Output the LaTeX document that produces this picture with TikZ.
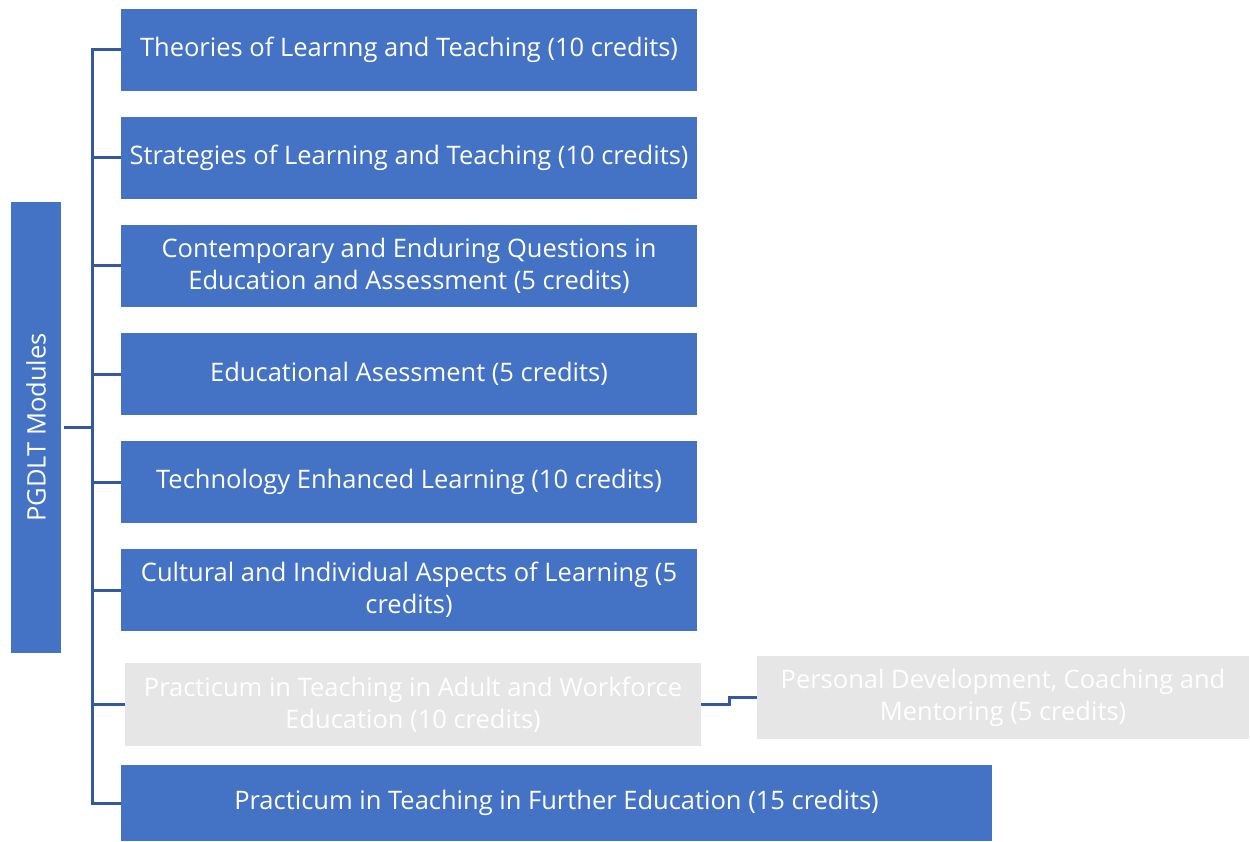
\documentclass[tikz,border=0pt]{standalone}
\usepackage{fontspec}
\setmainfont{Open Sans}
\begin{document}
\begin{tikzpicture}[x=1pt,y=-1pt,
  mod/.style={fill=modblue,text=white,inner sep=0pt,align=center,
    font=\fontsize{25.5}{32}\selectfont},
  optmod/.style={mod,fill=optgrey},
  link/.style={draw=linkblue,line width=3pt}]
\definecolor{modblue}{HTML}{4472C4}
\definecolor{optgrey}{HTML}{E7E6E6}
\definecolor{linkblue}{HTML}{3559A0}
\useasboundingbox (0,0) rectangle (1250,842);

% root of the module tree
\node[mod,minimum width=50pt,minimum height=451pt] (pg) at (36,427.5) {\rotatebox{90}{PGDLT Modules}};

% modules
\node[mod,minimum width=576pt,minimum height=82pt] (m1) at (409,50) {Theories of Learnng and Teaching (10 credits)};
\node[mod,minimum width=576pt,minimum height=82pt] (m2) at (409,158) {Strategies of Learning and Teaching (10 credits)};
\node[mod,minimum width=576pt,minimum height=82pt] (m3) at (409,266) {Contemporary and Enduring Questions in\\Education and Assessment (5 credits)};
\node[mod,minimum width=576pt,minimum height=82pt] (m4) at (409,374) {Educational Asessment (5 credits)};
\node[mod,minimum width=576pt,minimum height=82pt] (m5) at (409,482) {Technology Enhanced Learning (10 credits)};
\node[mod,minimum width=576pt,minimum height=82pt] (m6) at (409,590) {Cultural and Individual Aspects of Learning (5\\credits)};
\node[optmod,minimum width=576pt,minimum height=83pt] (m7) at (413,704.5) {Practicum in Teaching in Adult and Workforce\\Education (10 credits)};
\node[optmod,minimum width=492pt,minimum height=83pt] (m7a) at (1003,697.5) {Personal Development, Coaching and\\Mentoring (5 credits)};
\node[mod,minimum width=871pt,minimum height=76pt] (m8) at (556.5,803) {Practicum in Teaching in Further Education (15 credits)};

% connector bus
\coordinate (bus) at (92,427.5);
\foreach \m in {m1,m2,m3,m4,m5,m6,m7,m8}
  \draw[link] ([xshift=3pt]pg.east) -- (bus) |- (\m.west);
\coordinate (step) at (729,704.5);
\draw[link] (m7.east) -- (step) |- (m7a.west);
\end{tikzpicture}
\end{document}
